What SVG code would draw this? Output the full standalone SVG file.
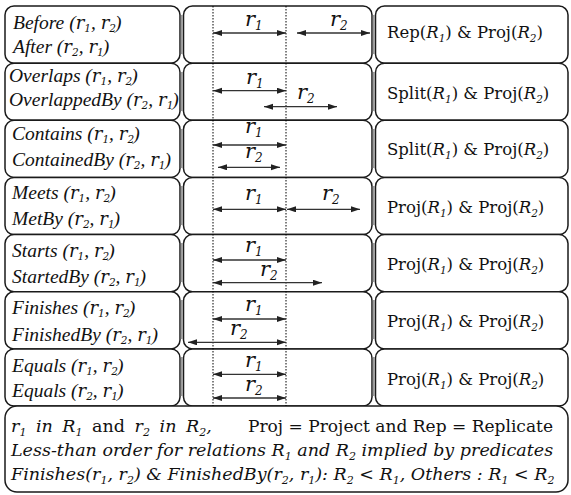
<svg xmlns="http://www.w3.org/2000/svg" width="571" height="495" viewBox="0 0 571 495">
<style>
.cell{fill:#fff;stroke:#1a1a1a;stroke-width:1.5}
.gap{fill:#9a9a9a}
.lt{font-family:"Liberation Serif",serif;font-style:italic;font-size:19.5px;fill:#111}
.r{font-family:"DejaVu Serif",serif;font-style:italic;font-size:18px}
.sb{font-family:"DejaVu Serif",serif;font-style:italic;font-size:10.5px}
.m{font-family:"DejaVu Serif",serif;font-style:italic;font-size:21px;fill:#111}
.ms{font-size:12px}
.rt{font-family:"DejaVu Serif",serif;font-size:16.5px;fill:#111}
.R{font-style:italic}
.rs{font-style:italic;font-size:10.5px}
.bt{font-family:"DejaVu Serif",serif;font-size:17.5px;fill:#111}
.it{font-style:italic}
.bs{font-style:italic;font-size:11px}
.dot{stroke:#000;stroke-width:1;stroke-dasharray:1.5 1.5;fill:none}
.arr{stroke:#333;stroke-width:1.3;fill:none;marker-start:url(#ah);marker-end:url(#ah)}
</style>
<defs>
<marker id="ah" markerUnits="userSpaceOnUse" markerWidth="10" markerHeight="7" refX="9" refY="3" orient="auto-start-reverse">
<path d="M0,0 L9,3 L0,6 z" fill="#222"/>
</marker>
</defs>

<g id="row1-left"><rect class="cell" x="5" y="6" width="175" height="57.15" rx="9"/>
<text class="lt" x="13" y="29">Before (<tspan class="r">r</tspan><tspan class="sb" dy="3">1</tspan><tspan dy="-3">, </tspan><tspan class="r">r</tspan><tspan class="sb" dy="3">2</tspan><tspan dy="-3" dx="-1">)</tspan></text>
<text class="lt" x="13" y="53">After (<tspan class="r">r</tspan><tspan class="sb" dy="3">2</tspan><tspan dy="-3">, </tspan><tspan class="r">r</tspan><tspan class="sb" dy="3">1</tspan><tspan dy="-3" dx="-1">)</tspan></text></g>
<g id="row2-left"><rect class="cell" x="5" y="63.15" width="175" height="57.15" rx="9"/>
<text class="lt" x="9" y="82">Overlaps (<tspan class="r">r</tspan><tspan class="sb" dy="3">1</tspan><tspan dy="-3">, </tspan><tspan class="r">r</tspan><tspan class="sb" dy="3">2</tspan><tspan dy="-3" dx="-1">)</tspan></text>
<text class="lt" x="9" y="106">OverlappedBy (<tspan class="r">r</tspan><tspan class="sb" dy="3">2</tspan><tspan dy="-3">, </tspan><tspan class="r">r</tspan><tspan class="sb" dy="3">1</tspan><tspan dy="-3" dx="-1">)</tspan></text></g>
<g id="row3-left"><rect class="cell" x="5" y="120.3" width="175" height="57.15" rx="9"/>
<text class="lt" x="12" y="140">Contains (<tspan class="r">r</tspan><tspan class="sb" dy="3">1</tspan><tspan dy="-3">, </tspan><tspan class="r">r</tspan><tspan class="sb" dy="3">2</tspan><tspan dy="-3" dx="-1">)</tspan></text>
<text class="lt" x="12" y="166">ContainedBy (<tspan class="r">r</tspan><tspan class="sb" dy="3">2</tspan><tspan dy="-3">, </tspan><tspan class="r">r</tspan><tspan class="sb" dy="3">1</tspan><tspan dy="-3" dx="-1">)</tspan></text></g>
<g id="row4-left"><rect class="cell" x="5" y="177.45" width="175" height="57.15" rx="9"/>
<text class="lt" x="12" y="199">Meets (<tspan class="r">r</tspan><tspan class="sb" dy="3">1</tspan><tspan dy="-3">, </tspan><tspan class="r">r</tspan><tspan class="sb" dy="3">2</tspan><tspan dy="-3" dx="-1">)</tspan></text>
<text class="lt" x="12" y="225">MetBy (<tspan class="r">r</tspan><tspan class="sb" dy="3">2</tspan><tspan dy="-3">, </tspan><tspan class="r">r</tspan><tspan class="sb" dy="3">1</tspan><tspan dy="-3" dx="-1">)</tspan></text></g>
<g id="row5-left"><rect class="cell" x="5" y="234.6" width="175" height="57.15" rx="9"/>
<text class="lt" x="12" y="257">Starts (<tspan class="r">r</tspan><tspan class="sb" dy="3">1</tspan><tspan dy="-3">, </tspan><tspan class="r">r</tspan><tspan class="sb" dy="3">2</tspan><tspan dy="-3" dx="-1">)</tspan></text>
<text class="lt" x="12" y="283">StartedBy (<tspan class="r">r</tspan><tspan class="sb" dy="3">2</tspan><tspan dy="-3">, </tspan><tspan class="r">r</tspan><tspan class="sb" dy="3">1</tspan><tspan dy="-3" dx="-1">)</tspan></text></g>
<g id="row6-left"><rect class="cell" x="5" y="291.75" width="175" height="57.15" rx="9"/>
<text class="lt" x="12" y="314">Finishes (<tspan class="r">r</tspan><tspan class="sb" dy="3">1</tspan><tspan dy="-3">, </tspan><tspan class="r">r</tspan><tspan class="sb" dy="3">2</tspan><tspan dy="-3" dx="-1">)</tspan></text>
<text class="lt" x="12" y="341">FinishedBy (<tspan class="r">r</tspan><tspan class="sb" dy="3">2</tspan><tspan dy="-3">, </tspan><tspan class="r">r</tspan><tspan class="sb" dy="3">1</tspan><tspan dy="-3" dx="-1">)</tspan></text></g>
<g id="row7-left"><rect class="cell" x="5" y="348.9" width="175" height="57.15" rx="9"/>
<text class="lt" x="12" y="372">Equals (<tspan class="r">r</tspan><tspan class="sb" dy="3">1</tspan><tspan dy="-3">, </tspan><tspan class="r">r</tspan><tspan class="sb" dy="3">2</tspan><tspan dy="-3" dx="-1">)</tspan></text>
<text class="lt" x="12" y="397">Equals (<tspan class="r">r</tspan><tspan class="sb" dy="3">2</tspan><tspan dy="-3">, </tspan><tspan class="r">r</tspan><tspan class="sb" dy="3">1</tspan><tspan dy="-3" dx="-1">)</tspan></text></g>

<g id="row1-mid"><rect class="cell" x="183.5" y="6" width="188.5" height="57.15" rx="9"/>
<text class="m" x="245" y="26">r<tspan class="ms" dy="4">1</tspan></text>
<text class="m" x="330" y="26">r<tspan class="ms" dy="4">2</tspan></text></g>
<g id="row2-mid"><rect class="cell" x="183.5" y="63.15" width="188.5" height="57.15" rx="9"/>
<text class="m" x="246" y="84">r<tspan class="ms" dy="4">1</tspan></text>
<text class="m" x="297" y="99">r<tspan class="ms" dy="4">2</tspan></text></g>
<g id="row3-mid"><rect class="cell" x="183.5" y="120.3" width="188.5" height="57.15" rx="9"/>
<text class="m" x="245" y="133">r<tspan class="ms" dy="4">1</tspan></text>
<text class="m" x="245" y="158">r<tspan class="ms" dy="4">2</tspan></text></g>
<g id="row4-mid"><rect class="cell" x="183.5" y="177.45" width="188.5" height="57.15" rx="9"/>
<text class="m" x="245" y="200">r<tspan class="ms" dy="4">1</tspan></text>
<text class="m" x="322" y="200">r<tspan class="ms" dy="4">2</tspan></text></g>
<g id="row5-mid"><rect class="cell" x="183.5" y="234.6" width="188.5" height="57.15" rx="9"/>
<text class="m" x="245" y="252">r<tspan class="ms" dy="4">1</tspan></text>
<text class="m" x="260" y="276">r<tspan class="ms" dy="4">2</tspan></text></g>
<g id="row6-mid"><rect class="cell" x="183.5" y="291.75" width="188.5" height="57.15" rx="9"/>
<text class="m" x="245" y="311">r<tspan class="ms" dy="4">1</tspan></text>
<text class="m" x="230" y="335">r<tspan class="ms" dy="4">2</tspan></text></g>
<g id="row7-mid"><rect class="cell" x="183.5" y="348.9" width="188.5" height="57.15" rx="9"/>
<text class="m" x="245" y="367">r<tspan class="ms" dy="4">1</tspan></text>
<text class="m" x="245" y="391">r<tspan class="ms" dy="4">2</tspan></text></g>

<g id="row1-right"><rect class="cell" x="375.5" y="6" width="192.5" height="57.15" rx="9"/>
<text class="rt" x="387" y="38">Rep(<tspan class="R">R</tspan><tspan class="rs" dy="4">1</tspan><tspan dy="-4">) &amp; Proj(</tspan><tspan class="R">R</tspan><tspan class="rs" dy="4">2</tspan><tspan dy="-4">)</tspan></text></g>
<g id="row2-right"><rect class="cell" x="375.5" y="63.15" width="192.5" height="57.15" rx="9"/>
<text class="rt" x="387" y="99">Split(<tspan class="R">R</tspan><tspan class="rs" dy="4">1</tspan><tspan dy="-4">) &amp; Proj(</tspan><tspan class="R">R</tspan><tspan class="rs" dy="4">2</tspan><tspan dy="-4">)</tspan></text></g>
<g id="row3-right"><rect class="cell" x="375.5" y="120.3" width="192.5" height="57.15" rx="9"/>
<text class="rt" x="387" y="155">Split(<tspan class="R">R</tspan><tspan class="rs" dy="4">1</tspan><tspan dy="-4">) &amp; Proj(</tspan><tspan class="R">R</tspan><tspan class="rs" dy="4">2</tspan><tspan dy="-4">)</tspan></text></g>
<g id="row4-right"><rect class="cell" x="375.5" y="177.45" width="192.5" height="57.15" rx="9"/>
<text class="rt" x="387" y="213">Proj(<tspan class="R">R</tspan><tspan class="rs" dy="4">1</tspan><tspan dy="-4">) &amp; Proj(</tspan><tspan class="R">R</tspan><tspan class="rs" dy="4">2</tspan><tspan dy="-4">)</tspan></text></g>
<g id="row5-right"><rect class="cell" x="375.5" y="234.6" width="192.5" height="57.15" rx="9"/>
<text class="rt" x="387" y="270">Proj(<tspan class="R">R</tspan><tspan class="rs" dy="4">1</tspan><tspan dy="-4">) &amp; Proj(</tspan><tspan class="R">R</tspan><tspan class="rs" dy="4">2</tspan><tspan dy="-4">)</tspan></text></g>
<g id="row6-right"><rect class="cell" x="375.5" y="291.75" width="192.5" height="57.15" rx="9"/>
<text class="rt" x="387" y="327">Proj(<tspan class="R">R</tspan><tspan class="rs" dy="4">1</tspan><tspan dy="-4">) &amp; Proj(</tspan><tspan class="R">R</tspan><tspan class="rs" dy="4">2</tspan><tspan dy="-4">)</tspan></text></g>
<g id="row7-right"><rect class="cell" x="375.5" y="348.9" width="192.5" height="57.15" rx="9"/>
<text class="rt" x="387" y="385">Proj(<tspan class="R">R</tspan><tspan class="rs" dy="4">1</tspan><tspan dy="-4">) &amp; Proj(</tspan><tspan class="R">R</tspan><tspan class="rs" dy="4">2</tspan><tspan dy="-4">)</tspan></text></g>

<g id="dividers">
<rect class="gap" x="180.8" y="15" width="2" height="39"/><rect class="gap" x="180.8" y="72" width="2" height="39"/>
<rect class="gap" x="180.8" y="129" width="2" height="39"/><rect class="gap" x="180.8" y="186" width="2" height="39"/>
<rect class="gap" x="180.8" y="243" width="2" height="39"/><rect class="gap" x="180.8" y="300" width="2" height="39"/>
<rect class="gap" x="180.8" y="357" width="2" height="39"/>
<rect class="gap" x="372.8" y="15" width="2" height="39"/><rect class="gap" x="372.8" y="72" width="2" height="39"/>
<rect class="gap" x="372.8" y="129" width="2" height="39"/><rect class="gap" x="372.8" y="186" width="2" height="39"/>
<rect class="gap" x="372.8" y="243" width="2" height="39"/><rect class="gap" x="372.8" y="300" width="2" height="39"/>
<rect class="gap" x="372.8" y="357" width="2" height="39"/>
</g>

<g id="legend"><rect class="cell" x="5" y="406.05" width="563" height="86" rx="12"/>
<text class="bt" x="11" y="432" style="word-spacing:4px"><tspan class="it">r</tspan><tspan class="bs" dy="4">1</tspan><tspan class="it" dy="-4"> in R</tspan><tspan class="bs" dy="4">1</tspan><tspan dy="-4"> and </tspan><tspan class="it">r</tspan><tspan class="bs" dy="4">2</tspan><tspan class="it" dy="-4"> in R</tspan><tspan class="bs" dy="4">2</tspan><tspan class="it" dy="-4">,</tspan></text>
<text class="bt" x="248" y="432" textLength="305" lengthAdjust="spacingAndGlyphs">Proj = Project and Rep = Replicate</text>
<text class="bt it" x="11" y="456">Less-than order for relations R<tspan class="bs" dy="4">1</tspan><tspan dy="-4"> and R</tspan><tspan class="bs" dy="4">2</tspan><tspan dy="-4"> implied by predicates</tspan></text>
<text class="bt it" x="11" y="480">Finishes(r<tspan class="bs" dy="4">1</tspan><tspan dy="-4">, r</tspan><tspan class="bs" dy="4">2</tspan><tspan dy="-4">) &amp; FinishedBy(r</tspan><tspan class="bs" dy="4">2</tspan><tspan dy="-4">, r</tspan><tspan class="bs" dy="4">1</tspan><tspan dy="-4">): R</tspan><tspan class="bs" dy="4">2</tspan><tspan dy="-4"> &lt; R</tspan><tspan class="bs" dy="4">1</tspan><tspan dy="-4">, Others : R</tspan><tspan class="bs" dy="4">1</tspan><tspan dy="-4"> &lt; R</tspan><tspan class="bs" dy="4">2</tspan></text></g>

<g id="connectors">
<line class="dot" x1="213" y1="6" x2="213" y2="406"/>
<line class="dot" x1="286" y1="6" x2="286" y2="406"/>
<line class="arr" x1="213" y1="33" x2="286" y2="33"/>
<line class="arr" x1="297" y1="33" x2="370" y2="33"/>
<line class="arr" x1="213" y1="90.7" x2="286" y2="90.7"/>
<line class="arr" x1="264" y1="106.7" x2="337" y2="106.7"/>
<line class="arr" x1="213" y1="145" x2="286" y2="145"/>
<line class="arr" x1="218" y1="167.3" x2="280" y2="167.3"/>
<line class="arr" x1="213" y1="209.3" x2="286" y2="209.3"/>
<line class="arr" x1="287" y1="209.3" x2="360" y2="209.3"/>
<line class="arr" x1="213" y1="260" x2="286" y2="260"/>
<line class="arr" x1="213" y1="282.7" x2="322" y2="282.7"/>
<line class="arr" x1="213" y1="319" x2="286" y2="319"/>
<line class="arr" x1="188" y1="342.3" x2="286" y2="342.3"/>
<line class="arr" x1="213" y1="374.3" x2="286" y2="374.3"/>
<line class="arr" x1="213" y1="398" x2="286" y2="398"/>
</g>
</svg>
